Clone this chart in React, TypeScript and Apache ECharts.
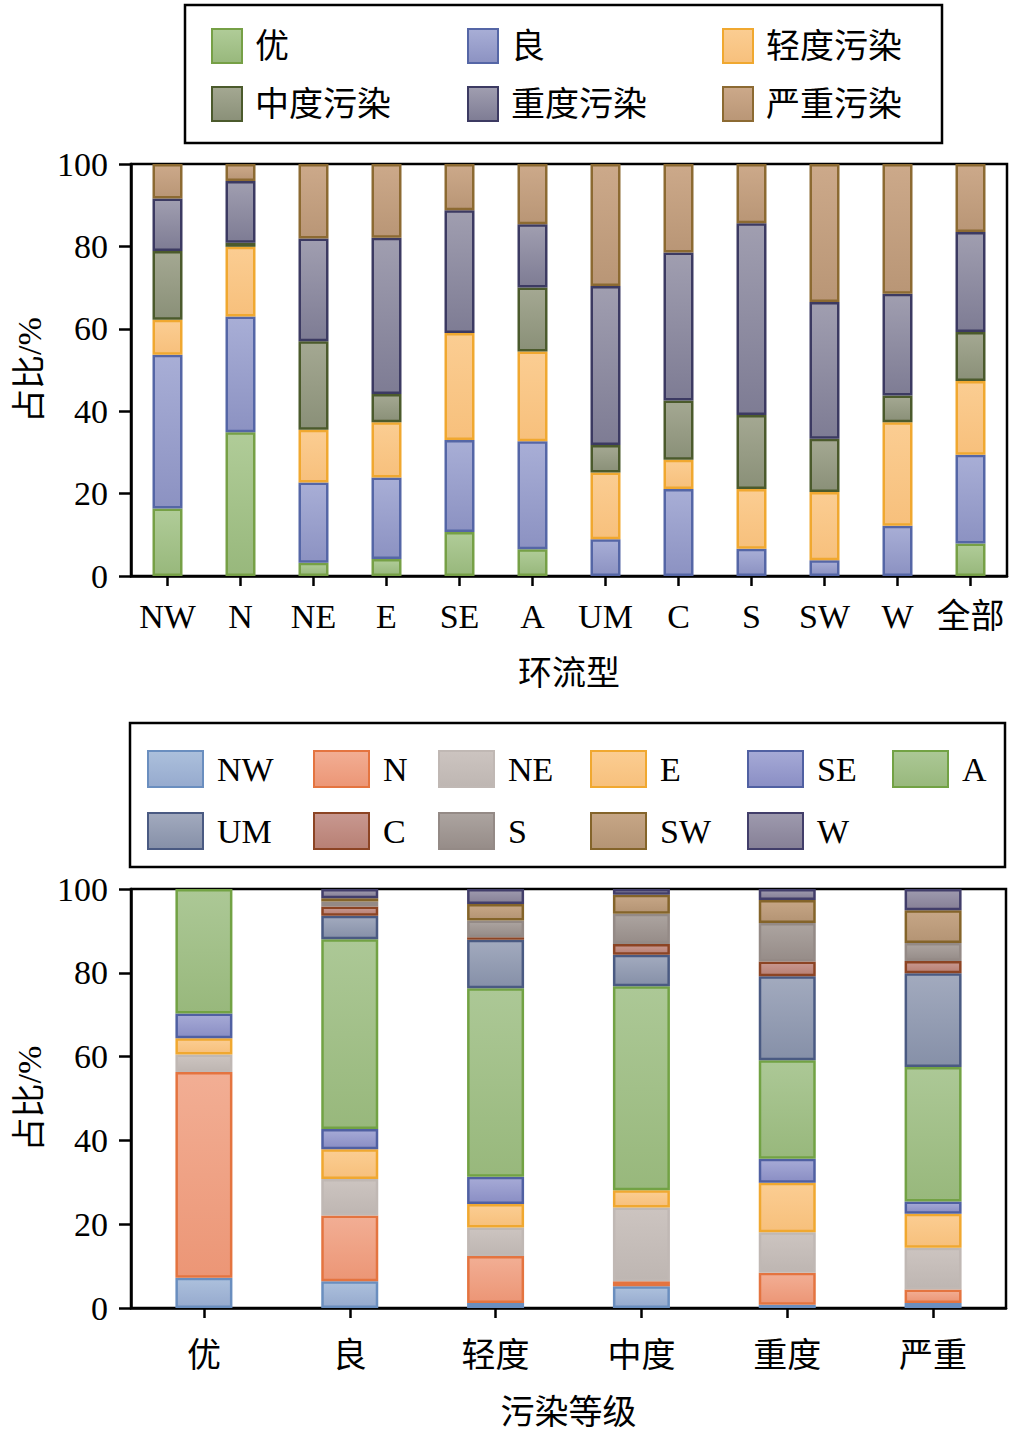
import React, { useEffect, useRef } from "react";
import * as echarts from "echarts";

// ---------- data ----------
const circTypes = ["NW", "N", "NE", "E", "SE", "A", "UM", "C", "S", "SW", "W", "全部"];
const levelNames = ["优", "良", "轻度污染", "中度污染", "重度污染", "严重污染"];
const youVals = [16.4, 34.9, 3.2, 4.1, 10.7, 6.5, null, null, null, null, null, 7.9];
const liangVals = [37.3, 28.1, 19.5, 19.8, 22.3, 26.2, 8.9, 21.1, 6.6, 3.8, 12.2, 21.5];
const qingVals = [8.5, 16.9, 12.8, 13.4, 26.0, 21.8, 16.2, 7.1, 14.5, 16.6, 25.1, 17.9];
const zhongVals = [16.7, 1.0, 21.5, 6.9, null, 15.5, 6.7, 14.4, 18.0, 12.9, 6.5, 11.9];
const zhongduVals = [12.7, 15.0, 24.9, 37.9, 29.8, 15.4, 38.6, 35.9, 46.5, 33.2, 24.7, 24.3];
const yanVals = [8.4, 4.1, 18.1, 17.9, 11.2, 14.6, 29.6, 21.5, 14.4, 33.5, 31.5, 16.5];
const topSeriesVals = [youVals, liangVals, qingVals, zhongVals, zhongduVals, yanVals];

const pollutionLevels = ["优", "良", "轻度", "中度", "重度", "严重"];
const typeNames = ["NW", "N", "NE", "E", "SE", "A", "UM", "C", "S", "SW", "W"];
const nwVals = [7.2, 6.4, 1.2, 5.2, 0.8, 1.2];
const nVals = [49.1, 15.7, 11.2, 1.2, 7.6, 3.2];
const neVals = [4.2, 8.7, 6.8, 17.6, 9.7, 10.0];
const eVals = [3.9, 7.1, 5.6, 4.1, 11.8, 8.1];
const seVals = [5.9, 4.8, 6.5, null, 5.7, 2.9];
const aVals = [29.7, 45.3, 45.0, 48.7, 23.5, 32.1];
const umVals = [null, 5.6, 11.6, 7.5, 20.1, 22.4];
const cVals = [null, 2.2, 0.6, 2.6, 3.5, 2.9];
const sVals = [null, 1.2, 4.0, 7.2, 9.2, 4.3];
const swVals = [null, 0.8, 3.9, 4.5, 5.5, 7.8];
const wVals = [null, 2.2, 3.6, 1.4, 2.6, 5.1];
const bottomSeriesVals = [nwVals, nVals, neVals, eVals, seVals, aVals, umVals, cVals, sVals, swVals, wVals];

const yTicks = [0, 20, 40, 60, 80, 100];

// ---------- styles ----------
const topColors = [
  ["#b0cc98", "#98b87c", "#76a046"],
  ["#a8aed6", "#8c92c2", "#5566a6"],
  ["#fbcd92", "#f7c07c", "#f0a830"],
  ["#a4a892", "#8a9078", "#4b5a2c"],
  ["#a09eb0", "#7e7c94", "#3c3a62"],
  ["#cca98a", "#b99676", "#8c6a32"],
];
const bottomColors = [
  ["#acc0dc", "#96aace", "#6a8ebf"],
  ["#f2ae94", "#ec9676", "#e47440"],
  ["#ccc4c0", "#beb6b2", "#c0b8b4"],
  ["#fbcd92", "#f7c07c", "#f0a830"],
  ["#a6aad6", "#8a8ec4", "#5060a2"],
  ["#acc896", "#98b87c", "#72a244"],
  ["#a2aabe", "#8690a8", "#4a5a82"],
  ["#c89890", "#b88074", "#8c4424"],
  ["#aca4a0", "#968c88", "#948a86"],
  ["#c6a686", "#b49474", "#84642a"],
  ["#9e9aae", "#868096", "#423e6a"],
];

const FONT = "'Liberation Serif', 'Noto Sans CJK SC', serif";

function grad(c: string[]) {
  return {
    type: "linear",
    x: 0, y: 0, x2: 0, y2: 1,
    colorStops: [
      { offset: 0, color: c[0] },
      { offset: 1, color: c[1] },
    ],
  };
}

// legend positions (icon left, icon top)
const topLegendPos = [
  [211, 28], [467, 28], [722, 28],
  [211, 86], [467, 86], [722, 86],
];
const bottomLegendPos = [
  [147, 750], [313, 750], [438, 750], [590, 750], [747, 750], [892, 750],
  [147, 812], [313, 812], [438, 812], [590, 812], [747, 812],
];

export default function App() {
  const ref = useRef<HTMLDivElement>(null);
  useEffect(() => {
    if (!ref.current) return;
    const chart = echarts.init(ref.current, undefined, { renderer: "svg" });

    const axisLineStyle = { lineStyle: { color: "#000", width: 2.5 } };
    const mkY = (gridIndex: number) => ({
      type: "value",
      gridIndex,
      min: yTicks[0],
      max: yTicks[yTicks.length - 1],
      interval: 20,
      name: "占比/%",
      nameLocation: "middle",
      nameGap: 68,
      nameTextStyle: { fontFamily: FONT, fontSize: 34, color: "#000" },
      axisLine: { show: true, ...axisLineStyle },
      axisTick: { show: true, length: 12, lineStyle: { color: "#000", width: 2.5 } },
      axisLabel: { fontFamily: FONT, fontSize: 34, color: "#000", margin: 23 },
      splitLine: { show: false },
    });

    const series: any[] = [];
    levelNames.forEach((name, i) => {
      series.push({
        name,
        type: "bar",
        stack: "top",
        xAxisIndex: 0,
        yAxisIndex: 0,
        barWidth: 30,
        data: topSeriesVals[i],
        itemStyle: { color: grad(topColors[i]), borderColor: topColors[i][2], borderWidth: 2.5 },
      });
    });
    typeNames.forEach((name, i) => {
      series.push({
        name,
        type: "bar",
        stack: "bottom",
        xAxisIndex: 1,
        yAxisIndex: 1,
        barWidth: 57,
        data: bottomSeriesVals[i],
        itemStyle: { color: grad(bottomColors[i]), borderColor: bottomColors[i][2], borderWidth: 2.5 },
      });
    });

    const legends: any[] = [];
    levelNames.forEach((name, i) => {
      legends.push({
        data: [name],
        left: topLegendPos[i][0],
        top: topLegendPos[i][1],
        padding: 0,
        itemWidth: 30,
        itemHeight: 34,
        selectedMode: false,
        icon: "rect",
        textStyle: { fontFamily: FONT, fontSize: 34, color: "#000", padding: [0, 0, 0, 8] },
      });
    });
    typeNames.forEach((name, i) => {
      legends.push({
        data: [name],
        left: bottomLegendPos[i][0],
        top: bottomLegendPos[i][1],
        padding: 0,
        itemWidth: 55,
        itemHeight: 36,
        selectedMode: false,
        icon: "rect",
        textStyle: { fontFamily: FONT, fontSize: 34, color: "#000", padding: [0, 0, 0, 9] },
      });
    });

    chart.setOption({
      animation: false,
      backgroundColor: "#fff",
      grid: [
        { left: 131, top: 164, width: 876, height: 412, show: true, borderColor: "#000", borderWidth: 2.5, backgroundColor: "transparent" },
        { left: 131, top: 889, width: 875, height: 419, show: true, borderColor: "#000", borderWidth: 2.5, backgroundColor: "transparent" },
      ],
      xAxis: [
        {
          type: "category",
          gridIndex: 0,
          data: circTypes,
          name: "环流型",
          nameLocation: "middle",
          nameGap: 80,
          nameTextStyle: { fontFamily: FONT, fontSize: 34, color: "#000" },
          axisLine: axisLineStyle,
          axisTick: { show: true, alignWithLabel: true, length: 10, lineStyle: { color: "#000", width: 2.5 } },
          axisLabel: { fontFamily: FONT, fontSize: 34, color: "#000", margin: 23, interval: 0 },
        },
        {
          type: "category",
          gridIndex: 1,
          data: pollutionLevels,
          name: "污染等级",
          nameLocation: "middle",
          nameGap: 87,
          nameTextStyle: { fontFamily: FONT, fontSize: 34, color: "#000" },
          axisLine: axisLineStyle,
          axisTick: { show: true, alignWithLabel: true, length: 10, lineStyle: { color: "#000", width: 2.5 } },
          axisLabel: { fontFamily: FONT, fontSize: 34, color: "#000", margin: 30, interval: 0 },
        },
      ],
      yAxis: [mkY(0), mkY(1)],
      legend: legends,
      graphic: [
        { type: "rect", shape: { x: 185, y: 5, width: 757, height: 138 }, style: { fill: "none", stroke: "#000", lineWidth: 2.5 }, z: 10 },
        { type: "rect", shape: { x: 130, y: 723, width: 875, height: 144 }, style: { fill: "none", stroke: "#000", lineWidth: 2.5 }, z: 10 },
      ],
      series,
    });
    return () => chart.dispose();
  }, []);
  return (
    <div
      ref={ref}
      style={{ position: "fixed", left: 0, top: 0, width: 1013, height: 1436, background: "#fff" }}
    />
  );
}
